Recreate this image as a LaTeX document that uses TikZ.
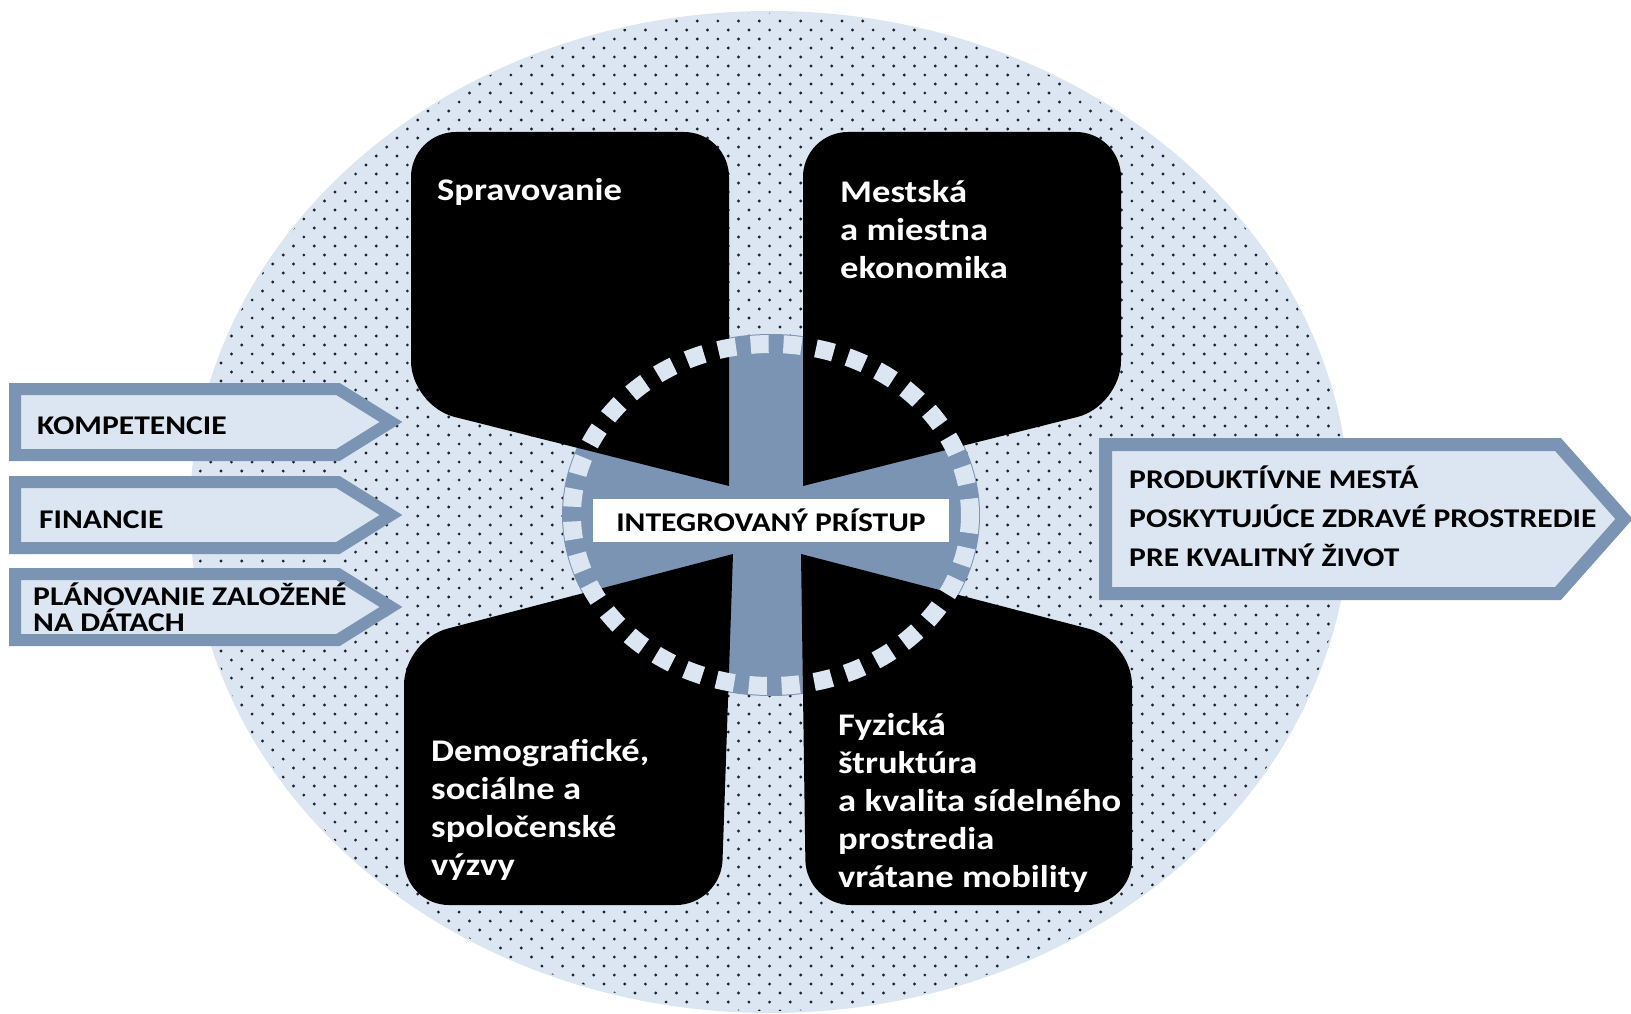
\documentclass[tikz,border=0pt]{standalone}
\usepackage{fontspec}
\newfontfamily\boxfont[FakeStretch=1.16]{Carlito}
\newfontfamily\arrfont[FakeStretch=1.17]{Carlito}
\definecolor{lightblue}{HTML}{DCE6F2}
\definecolor{steel}{HTML}{7B94B4}
\definecolor{dotc}{HTML}{1E2228}
\tikzset{
  blackshape/.style={fill=black, rounded corners=45pt},
  arrowbox/.style={draw=steel, fill=lightblue, line width=12pt, line join=miter},
  btxt/.style={text=white, inner sep=0pt, align=left, anchor=north west,
    font=\boxfont\bfseries\fontsize{31.5}{38}\selectfont},
  atxt/.style={text=black, inner sep=0pt, align=left,
    font=\arrfont\bfseries\fontsize{27}{27}\selectfont},
}
\begin{document}
\begin{tikzpicture}[x=1pt,y=-1pt]
\useasboundingbox (0,0) rectangle (1631,1014);
% background ellipse with dots
\fill[lightblue] (770,512) ellipse [x radius=580, y radius=501];
\begin{scope}
\clip (770,512) ellipse [x radius=578, y radius=499];
\foreach \r in {0,...,111} {
  \pgfmathsetmacro{\yy}{12+9*\r}
  \pgfmathsetmacro{\off}{mod(\r,2)*10.35}
  \foreach \c in {0,...,56} {
    \fill[dotc] ({190+\off+20.7*\c},\yy) circle[radius=1.6];
  }
}
\end{scope}
% central disk
\fill[steel] (771,515) ellipse [x radius=209, y radius=181];
% black shapes
\fill[blackshape] (729,486) -- (411,406) -- (411,132) -- (729,132) -- (729,486);
\fill[blackshape] (803,486) -- (1121,406) -- (1121,132) -- (803,132) -- (803,486);
\fill[blackshape] (733,554) -- (404,640) -- (404,905) -- (721,905) -- (733,554);
\fill[blackshape] (801,554) -- (1132,640) -- (1132,905) -- (806,905) -- (801,554);
% dashed ring
\draw[lightblue, line width=18pt, dash pattern=on 18pt off 14.8pt] (771,515) ellipse [x radius=199, y radius=171];
% centre label
\node[fill=white, minimum width=356pt, minimum height=43pt, inner sep=0pt,
  font=\arrfont\bfseries\fontsize{27}{27}\selectfont] (center) at (771,520.5) {INTEGROVANÝ PRÍSTUP};
% texts in black shapes
\node[btxt] (spr) at (437,178) {Spravovanie};
\node[btxt] (eko) at (840,180) {Mestská\\a miestna\\ekonomika};
\node[btxt] (dem) at (431,739) {Demografické,\\sociálne a\\spoločenské\\výzvy};
\node[btxt] (fyz) at (838,713) {Fyzická\\štruktúra\\a kvalita sídelného\\prostredia\\vrátane mobility};
% left arrows
\draw[arrowbox] (15,389) -- (338,389) -- (391,422) -- (338,455) -- (15,455) -- cycle;
\draw[arrowbox] (15,482) -- (338,482) -- (391,515) -- (338,548) -- (15,548) -- cycle;
\draw[arrowbox] (15,574) -- (338,574) -- (391,607) -- (338,640) -- (15,640) -- cycle;
\node[atxt, anchor=base west] (komp) at (37,434) {KOMPETENCIE};
\node[atxt, anchor=base west] (fin) at (39,528) {FINANCIE};
\node[atxt, anchor=base west] (plan1) at (33,605) {PLÁNOVANIE ZALOŽENÉ};
\node[atxt, anchor=base west] (plan2) at (33,631) {NA DÁTACH};
% right arrow
\draw[arrowbox, line width=13pt] (1105.5,444.5) -- (1558,444.5) -- (1624,519) -- (1558,593.5) -- (1105.5,593.5) -- cycle;
\node[atxt, anchor=base west] (out1) at (1129,488) {PRODUKTÍVNE MESTÁ};
\node[atxt, anchor=base west] (out2) at (1129,527) {POSKYTUJÚCE ZDRAVÉ PROSTREDIE};
\node[atxt, anchor=base west] (out3) at (1129,566) {PRE KVALITNÝ ŽIVOT};
\end{tikzpicture}
\end{document}
